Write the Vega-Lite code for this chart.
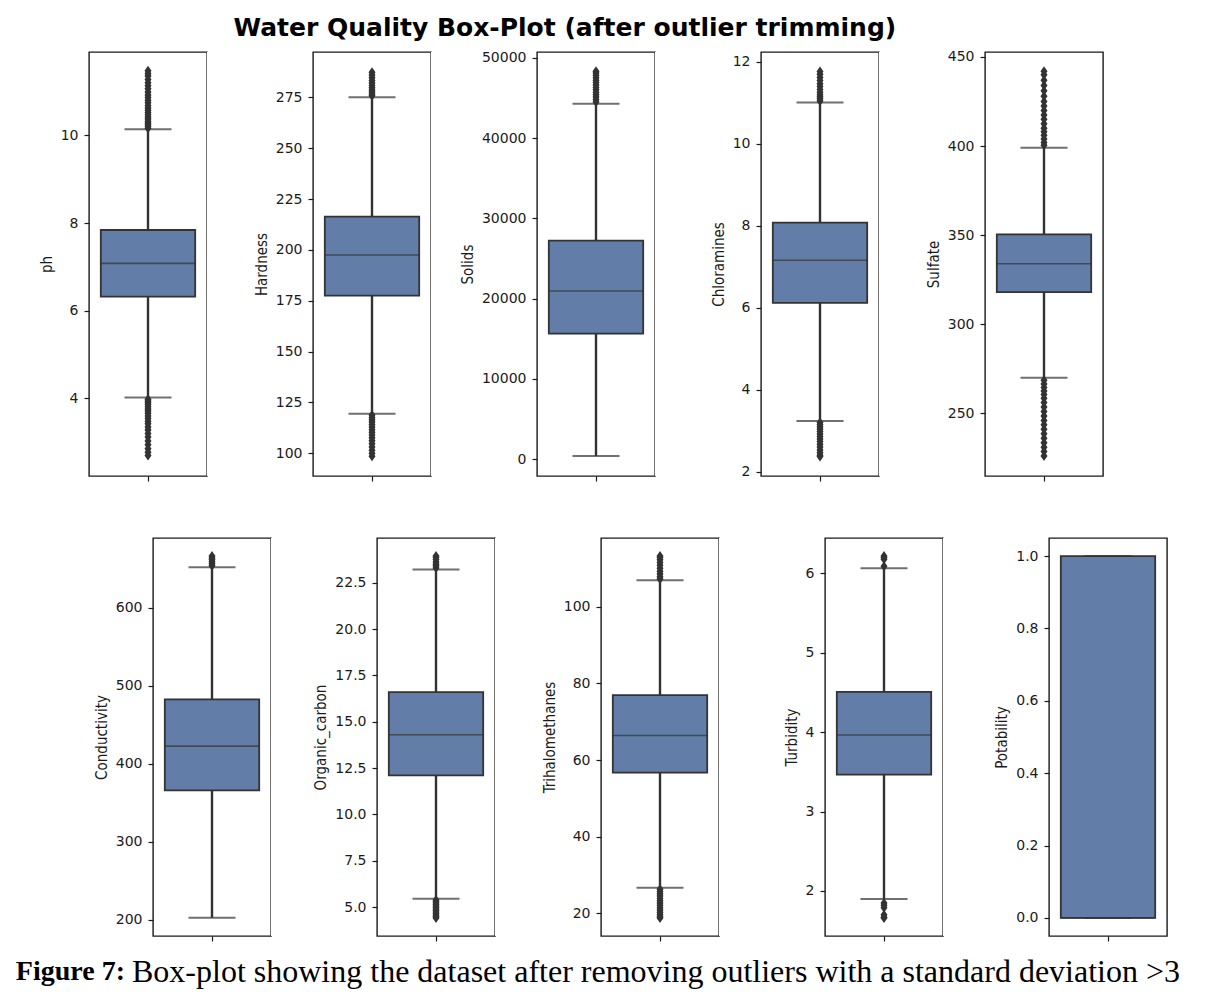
{
  "$schema": "https://vega.github.io/schema/vega-lite/v6.json",
  "background": "white",
  "padding": {"left": 15, "top": 16, "right": 5, "bottom": 5},
  "datasets": {
    "stats": [
      {"var": "ph", "lo": 4.02, "q1": 6.32, "med": 7.08, "q3": 7.84, "hi": 10.14},
      {"var": "Hardness", "lo": 119.4, "q1": 177.5, "med": 197.5, "q3": 216.3, "hi": 275.0},
      {"var": "Solids", "lo": 400, "q1": 15640, "med": 20950, "q3": 27220, "hi": 44270},
      {"var": "Chloramines", "lo": 3.24, "q1": 6.12, "med": 7.16, "q3": 8.08, "hi": 11.01},
      {"var": "Sulfate", "lo": 270, "q1": 318, "med": 333.9, "q3": 350.4, "hi": 399},
      {"var": "Conductivity", "lo": 202.4, "q1": 365.8, "med": 422.6, "q3": 482.4, "hi": 652},
      {"var": "Organic_carbon", "lo": 5.45, "q1": 12.1, "med": 14.3, "q3": 16.6, "hi": 23.22},
      {"var": "Trihalomethanes", "lo": 26.7, "q1": 56.7, "med": 66.4, "q3": 76.9, "hi": 106.9},
      {"var": "Turbidity", "lo": 1.9, "q1": 3.465, "med": 3.966, "q3": 4.509, "hi": 6.067},
      {"var": "Potability", "lo": 0, "q1": 0, "med": 0, "q3": 1, "hi": 1}
    ],
    "outliers": [
      {"var": "ph", "v": 10.16}, {"var": "ph", "v": 10.2}, {"var": "ph", "v": 10.24}, {"var": "ph", "v": 10.28}, {"var": "ph", "v": 10.32}, {"var": "ph", "v": 10.37}, {"var": "ph", "v": 10.42}, {"var": "ph", "v": 10.47}, {"var": "ph", "v": 10.52}, {"var": "ph", "v": 10.57}, {"var": "ph", "v": 10.62}, {"var": "ph", "v": 10.68}, {"var": "ph", "v": 10.74}, {"var": "ph", "v": 10.8}, {"var": "ph", "v": 10.86}, {"var": "ph", "v": 10.92}, {"var": "ph", "v": 10.99}, {"var": "ph", "v": 11.06}, {"var": "ph", "v": 11.13}, {"var": "ph", "v": 11.2}, {"var": "ph", "v": 11.27}, {"var": "ph", "v": 11.35}, {"var": "ph", "v": 11.41}, {"var": "ph", "v": 11.47},
      {"var": "ph", "v": 3.98}, {"var": "ph", "v": 3.94}, {"var": "ph", "v": 3.9}, {"var": "ph", "v": 3.86}, {"var": "ph", "v": 3.81}, {"var": "ph", "v": 3.76}, {"var": "ph", "v": 3.71}, {"var": "ph", "v": 3.66}, {"var": "ph", "v": 3.6}, {"var": "ph", "v": 3.54}, {"var": "ph", "v": 3.48}, {"var": "ph", "v": 3.42}, {"var": "ph", "v": 3.35}, {"var": "ph", "v": 3.28}, {"var": "ph", "v": 3.2}, {"var": "ph", "v": 3.12}, {"var": "ph", "v": 3.03}, {"var": "ph", "v": 2.94}, {"var": "ph", "v": 2.85}, {"var": "ph", "v": 2.77}, {"var": "ph", "v": 2.7},
      {"var": "Hardness", "v": 275.8}, {"var": "Hardness", "v": 276.7}, {"var": "Hardness", "v": 277.6}, {"var": "Hardness", "v": 278.6}, {"var": "Hardness", "v": 279.7}, {"var": "Hardness", "v": 280.8}, {"var": "Hardness", "v": 282.0}, {"var": "Hardness", "v": 283.3}, {"var": "Hardness", "v": 284.6}, {"var": "Hardness", "v": 286.0}, {"var": "Hardness", "v": 287.3},
      {"var": "Hardness", "v": 118.8}, {"var": "Hardness", "v": 117.6}, {"var": "Hardness", "v": 116.5}, {"var": "Hardness", "v": 115.3}, {"var": "Hardness", "v": 114.1}, {"var": "Hardness", "v": 112.9}, {"var": "Hardness", "v": 111.6}, {"var": "Hardness", "v": 110.3}, {"var": "Hardness", "v": 109.0}, {"var": "Hardness", "v": 107.6}, {"var": "Hardness", "v": 106.1}, {"var": "Hardness", "v": 104.6}, {"var": "Hardness", "v": 103.0}, {"var": "Hardness", "v": 101.5}, {"var": "Hardness", "v": 100.0}, {"var": "Hardness", "v": 98.5},
      {"var": "Solids", "v": 44500}, {"var": "Solids", "v": 44800}, {"var": "Solids", "v": 45100}, {"var": "Solids", "v": 45400}, {"var": "Solids", "v": 45700}, {"var": "Solids", "v": 46000}, {"var": "Solids", "v": 46300}, {"var": "Solids", "v": 46600}, {"var": "Solids", "v": 46900}, {"var": "Solids", "v": 47200}, {"var": "Solids", "v": 47500}, {"var": "Solids", "v": 47800}, {"var": "Solids", "v": 48100}, {"var": "Solids", "v": 48300},
      {"var": "Chloramines", "v": 11.05}, {"var": "Chloramines", "v": 11.1}, {"var": "Chloramines", "v": 11.15}, {"var": "Chloramines", "v": 11.2}, {"var": "Chloramines", "v": 11.26}, {"var": "Chloramines", "v": 11.33}, {"var": "Chloramines", "v": 11.4}, {"var": "Chloramines", "v": 11.47}, {"var": "Chloramines", "v": 11.55}, {"var": "Chloramines", "v": 11.62}, {"var": "Chloramines", "v": 11.7}, {"var": "Chloramines", "v": 11.77},
      {"var": "Chloramines", "v": 3.2}, {"var": "Chloramines", "v": 3.15}, {"var": "Chloramines", "v": 3.1}, {"var": "Chloramines", "v": 3.04}, {"var": "Chloramines", "v": 2.98}, {"var": "Chloramines", "v": 2.92}, {"var": "Chloramines", "v": 2.86}, {"var": "Chloramines", "v": 2.8}, {"var": "Chloramines", "v": 2.74}, {"var": "Chloramines", "v": 2.67}, {"var": "Chloramines", "v": 2.6}, {"var": "Chloramines", "v": 2.53}, {"var": "Chloramines", "v": 2.46}, {"var": "Chloramines", "v": 2.4}, {"var": "Chloramines", "v": 2.37},
      {"var": "Sulfate", "v": 400.5}, {"var": "Sulfate", "v": 402}, {"var": "Sulfate", "v": 404}, {"var": "Sulfate", "v": 406}, {"var": "Sulfate", "v": 408}, {"var": "Sulfate", "v": 410}, {"var": "Sulfate", "v": 412.5}, {"var": "Sulfate", "v": 415}, {"var": "Sulfate", "v": 417.5}, {"var": "Sulfate", "v": 420}, {"var": "Sulfate", "v": 422.5}, {"var": "Sulfate", "v": 425}, {"var": "Sulfate", "v": 428}, {"var": "Sulfate", "v": 431}, {"var": "Sulfate", "v": 434}, {"var": "Sulfate", "v": 437}, {"var": "Sulfate", "v": 440}, {"var": "Sulfate", "v": 442},
      {"var": "Sulfate", "v": 268.5}, {"var": "Sulfate", "v": 266.5}, {"var": "Sulfate", "v": 264.5}, {"var": "Sulfate", "v": 262.5}, {"var": "Sulfate", "v": 260.5}, {"var": "Sulfate", "v": 258.5}, {"var": "Sulfate", "v": 256}, {"var": "Sulfate", "v": 253.5}, {"var": "Sulfate", "v": 251}, {"var": "Sulfate", "v": 248.5}, {"var": "Sulfate", "v": 246}, {"var": "Sulfate", "v": 243.5}, {"var": "Sulfate", "v": 241}, {"var": "Sulfate", "v": 238.5}, {"var": "Sulfate", "v": 236}, {"var": "Sulfate", "v": 233.5}, {"var": "Sulfate", "v": 231}, {"var": "Sulfate", "v": 228.5}, {"var": "Sulfate", "v": 226},
      {"var": "Conductivity", "v": 654}, {"var": "Conductivity", "v": 656.5}, {"var": "Conductivity", "v": 659}, {"var": "Conductivity", "v": 661.5}, {"var": "Conductivity", "v": 664}, {"var": "Conductivity", "v": 666.3},
      {"var": "Organic_carbon", "v": 23.3}, {"var": "Organic_carbon", "v": 23.4}, {"var": "Organic_carbon", "v": 23.5}, {"var": "Organic_carbon", "v": 23.62}, {"var": "Organic_carbon", "v": 23.75}, {"var": "Organic_carbon", "v": 23.88}, {"var": "Organic_carbon", "v": 23.94},
      {"var": "Organic_carbon", "v": 5.38}, {"var": "Organic_carbon", "v": 5.3}, {"var": "Organic_carbon", "v": 5.22}, {"var": "Organic_carbon", "v": 5.14}, {"var": "Organic_carbon", "v": 5.06}, {"var": "Organic_carbon", "v": 4.98}, {"var": "Organic_carbon", "v": 4.9}, {"var": "Organic_carbon", "v": 4.82}, {"var": "Organic_carbon", "v": 4.73}, {"var": "Organic_carbon", "v": 4.64}, {"var": "Organic_carbon", "v": 4.55}, {"var": "Organic_carbon", "v": 4.47}, {"var": "Organic_carbon", "v": 4.41},
      {"var": "Trihalomethanes", "v": 107.2}, {"var": "Trihalomethanes", "v": 107.8}, {"var": "Trihalomethanes", "v": 108.5}, {"var": "Trihalomethanes", "v": 109.2}, {"var": "Trihalomethanes", "v": 110.0}, {"var": "Trihalomethanes", "v": 110.8}, {"var": "Trihalomethanes", "v": 111.5}, {"var": "Trihalomethanes", "v": 112.2}, {"var": "Trihalomethanes", "v": 112.8}, {"var": "Trihalomethanes", "v": 113.2},
      {"var": "Trihalomethanes", "v": 26.3}, {"var": "Trihalomethanes", "v": 25.7}, {"var": "Trihalomethanes", "v": 25.1}, {"var": "Trihalomethanes", "v": 24.5}, {"var": "Trihalomethanes", "v": 23.9}, {"var": "Trihalomethanes", "v": 23.3}, {"var": "Trihalomethanes", "v": 22.7}, {"var": "Trihalomethanes", "v": 22.1}, {"var": "Trihalomethanes", "v": 21.5}, {"var": "Trihalomethanes", "v": 20.9}, {"var": "Trihalomethanes", "v": 20.3}, {"var": "Trihalomethanes", "v": 19.7}, {"var": "Trihalomethanes", "v": 19.2}, {"var": "Trihalomethanes", "v": 18.8},
      {"var": "Turbidity", "v": 6.09}, {"var": "Turbidity", "v": 6.18}, {"var": "Turbidity", "v": 6.2}, {"var": "Turbidity", "v": 6.22},
      {"var": "Turbidity", "v": 1.85}, {"var": "Turbidity", "v": 1.82}, {"var": "Turbidity", "v": 1.79}, {"var": "Turbidity", "v": 1.7}, {"var": "Turbidity", "v": 1.67}, {"var": "Turbidity", "v": 1.66}
    ],
    "caption": [
      {"label": "Figure 7:", "rest": "Box-plot showing the dataset after removing outliers with a standard deviation >3"}
    ],
    "spacer": [{"k": 0}]
  },
  "config": {
    "view": {"stroke": null},
    "font": "DejaVu Sans",
    "axisY": {
      "domain": false, "grid": false, "ticks": true, "tickSize": 5, "tickColor": "#1a1a1a", "tickWidth": 1.2,
      "labelFont": "DejaVu Sans", "labelFontSize": 14, "labelColor": "#1a1a1a", "labelPadding": 6,
      "labelFlush": false, "labelOverlap": false,
      "titleFont": "DejaVu Sans Condensed, Liberation Sans Narrow, DejaVu Sans", "titleFontSize": 15, "titleFontWeight": "normal",
      "titleColor": "#1a1a1a", "titlePadding": 6
    },
    "axisX": {
      "domain": false, "grid": false, "labels": false, "ticks": true, "tickSize": 5, "tickColor": "#1a1a1a", "tickWidth": 1.2
    }
  },
  "spacing": 13,
  "vconcat": [
    {
      "spacing": 54,
      "vconcat": [
        {
          "title": {"text": "Water Quality Box-Plot (after outlier trimming)", "font": "DejaVu Sans", "fontSize": 25, "fontWeight": "bold", "color": "#000000", "anchor": "middle", "dx": 5, "offset": 8},
          "spacing": 0,
          "bounds": "flush",
          "hconcat": [
            {"width": 73, "height": 424, "data": {"name": "spacer"}, "mark": {"type": "point", "opacity": 0}, "encoding": {}, "view": {"stroke": null, "fill": "white"}},
            {
              "width": 118, "height": 424, "view": {"stroke": "#1a1a1a", "strokeWidth": 1.4},
              "data": {"name": "stats"}, "transform": [{"filter": "datum.var === 'ph'"}],
              "encoding": {"x": {"field": "var", "type": "nominal", "scale": {"paddingInner": 0, "paddingOuter": 0.125}, "axis": {"labels": false, "title": null, "bandPosition": 0.5}}},
              "layer": [
                {"mark": {"type": "rule", "stroke": "#333333", "strokeWidth": 2.4}, "encoding": {"y": {"field": "lo", "type": "quantitative", "scale": {"domain": [2.23, 11.9], "nice": false, "zero": false}, "axis": {"title": "ph", "values": [4, 6, 8, 10], "format": "d"}}, "y2": {"field": "hi"}}},
                {"mark": {"type": "bar", "fill": "#627ea8", "stroke": "#333333", "strokeWidth": 1.8}, "encoding": {"y": {"field": "q1", "type": "quantitative"}, "y2": {"field": "q3"}}},
                {"mark": {"type": "tick", "color": "#333333", "size": 94, "thickness": 1.6}, "encoding": {"y": {"field": "med", "type": "quantitative"}}},
                {"mark": {"type": "tick", "color": "#333333", "size": 47, "thickness": 2}, "encoding": {"y": {"field": "lo", "type": "quantitative"}}},
                {"mark": {"type": "tick", "color": "#333333", "size": 47, "thickness": 2}, "encoding": {"y": {"field": "hi", "type": "quantitative"}}},
                {"data": {"name": "outliers"}, "transform": [{"filter": "datum.var === 'ph'"}], "mark": {"type": "point", "shape": "M0,-1L0.7,0L0,1L-0.7,0Z", "size": 100, "filled": true, "color": "#333333", "opacity": 1}, "encoding": {"y": {"field": "v", "type": "quantitative"}}}
              ]
            },
            {"width": 106, "height": 424, "data": {"name": "spacer"}, "mark": {"type": "point", "opacity": 0}, "encoding": {}, "view": {"stroke": null, "fill": "white"}},
            {
              "width": 118, "height": 424, "view": {"stroke": "#1a1a1a", "strokeWidth": 1.4},
              "data": {"name": "stats"}, "transform": [{"filter": "datum.var === 'Hardness'"}],
              "encoding": {"x": {"field": "var", "type": "nominal", "scale": {"paddingInner": 0, "paddingOuter": 0.125}, "axis": {"labels": false, "title": null, "bandPosition": 0.5}}},
              "layer": [
                {"mark": {"type": "rule", "stroke": "#333333", "strokeWidth": 2.4}, "encoding": {"y": {"field": "lo", "type": "quantitative", "scale": {"domain": [88.8, 297.3], "nice": false, "zero": false}, "axis": {"title": "Hardness", "values": [100, 125, 150, 175, 200, 225, 250, 275], "format": "d"}}, "y2": {"field": "hi"}}},
                {"mark": {"type": "bar", "fill": "#627ea8", "stroke": "#333333", "strokeWidth": 1.8}, "encoding": {"y": {"field": "q1", "type": "quantitative"}, "y2": {"field": "q3"}}},
                {"mark": {"type": "tick", "color": "#333333", "size": 94, "thickness": 1.6}, "encoding": {"y": {"field": "med", "type": "quantitative"}}},
                {"mark": {"type": "tick", "color": "#333333", "size": 47, "thickness": 2}, "encoding": {"y": {"field": "lo", "type": "quantitative"}}},
                {"mark": {"type": "tick", "color": "#333333", "size": 47, "thickness": 2}, "encoding": {"y": {"field": "hi", "type": "quantitative"}}},
                {"data": {"name": "outliers"}, "transform": [{"filter": "datum.var === 'Hardness'"}], "mark": {"type": "point", "shape": "M0,-1L0.7,0L0,1L-0.7,0Z", "size": 100, "filled": true, "color": "#333333", "opacity": 1}, "encoding": {"y": {"field": "v", "type": "quantitative"}}}
              ]
            },
            {"width": 106, "height": 424, "data": {"name": "spacer"}, "mark": {"type": "point", "opacity": 0}, "encoding": {}, "view": {"stroke": null, "fill": "white"}},
            {
              "width": 118, "height": 424, "view": {"stroke": "#1a1a1a", "strokeWidth": 1.4},
              "data": {"name": "stats"}, "transform": [{"filter": "datum.var === 'Solids'"}],
              "encoding": {"x": {"field": "var", "type": "nominal", "scale": {"paddingInner": 0, "paddingOuter": 0.125}, "axis": {"labels": false, "title": null, "bandPosition": 0.5}}},
              "layer": [
                {"mark": {"type": "rule", "stroke": "#333333", "strokeWidth": 2.4}, "encoding": {"y": {"field": "lo", "type": "quantitative", "scale": {"domain": [-2080, 50710], "nice": false, "zero": false}, "axis": {"title": "Solids", "values": [0, 10000, 20000, 30000, 40000, 50000], "format": "d"}}, "y2": {"field": "hi"}}},
                {"mark": {"type": "bar", "fill": "#627ea8", "stroke": "#333333", "strokeWidth": 1.8}, "encoding": {"y": {"field": "q1", "type": "quantitative"}, "y2": {"field": "q3"}}},
                {"mark": {"type": "tick", "color": "#333333", "size": 94, "thickness": 1.6}, "encoding": {"y": {"field": "med", "type": "quantitative"}}},
                {"mark": {"type": "tick", "color": "#333333", "size": 47, "thickness": 2}, "encoding": {"y": {"field": "lo", "type": "quantitative"}}},
                {"mark": {"type": "tick", "color": "#333333", "size": 47, "thickness": 2}, "encoding": {"y": {"field": "hi", "type": "quantitative"}}},
                {"data": {"name": "outliers"}, "transform": [{"filter": "datum.var === 'Solids'"}], "mark": {"type": "point", "shape": "M0,-1L0.7,0L0,1L-0.7,0Z", "size": 100, "filled": true, "color": "#333333", "opacity": 1}, "encoding": {"y": {"field": "v", "type": "quantitative"}}}
              ]
            },
            {"width": 106, "height": 424, "data": {"name": "spacer"}, "mark": {"type": "point", "opacity": 0}, "encoding": {}, "view": {"stroke": null, "fill": "white"}},
            {
              "width": 118, "height": 424, "view": {"stroke": "#1a1a1a", "strokeWidth": 1.4},
              "data": {"name": "stats"}, "transform": [{"filter": "datum.var === 'Chloramines'"}],
              "encoding": {"x": {"field": "var", "type": "nominal", "scale": {"paddingInner": 0, "paddingOuter": 0.125}, "axis": {"labels": false, "title": null, "bandPosition": 0.5}}},
              "layer": [
                {"mark": {"type": "rule", "stroke": "#333333", "strokeWidth": 2.4}, "encoding": {"y": {"field": "lo", "type": "quantitative", "scale": {"domain": [1.895, 12.244], "nice": false, "zero": false}, "axis": {"title": "Chloramines", "values": [2, 4, 6, 8, 10, 12], "format": "d"}}, "y2": {"field": "hi"}}},
                {"mark": {"type": "bar", "fill": "#627ea8", "stroke": "#333333", "strokeWidth": 1.8}, "encoding": {"y": {"field": "q1", "type": "quantitative"}, "y2": {"field": "q3"}}},
                {"mark": {"type": "tick", "color": "#333333", "size": 94, "thickness": 1.6}, "encoding": {"y": {"field": "med", "type": "quantitative"}}},
                {"mark": {"type": "tick", "color": "#333333", "size": 47, "thickness": 2}, "encoding": {"y": {"field": "lo", "type": "quantitative"}}},
                {"mark": {"type": "tick", "color": "#333333", "size": 47, "thickness": 2}, "encoding": {"y": {"field": "hi", "type": "quantitative"}}},
                {"data": {"name": "outliers"}, "transform": [{"filter": "datum.var === 'Chloramines'"}], "mark": {"type": "point", "shape": "M0,-1L0.7,0L0,1L-0.7,0Z", "size": 100, "filled": true, "color": "#333333", "opacity": 1}, "encoding": {"y": {"field": "v", "type": "quantitative"}}}
              ]
            },
            {"width": 106, "height": 424, "data": {"name": "spacer"}, "mark": {"type": "point", "opacity": 0}, "encoding": {}, "view": {"stroke": null, "fill": "white"}},
            {
              "width": 118, "height": 424, "view": {"stroke": "#1a1a1a", "strokeWidth": 1.4},
              "data": {"name": "stats"}, "transform": [{"filter": "datum.var === 'Sulfate'"}],
              "encoding": {"x": {"field": "var", "type": "nominal", "scale": {"paddingInner": 0, "paddingOuter": 0.125}, "axis": {"labels": false, "title": null, "bandPosition": 0.5}}},
              "layer": [
                {"mark": {"type": "rule", "stroke": "#333333", "strokeWidth": 2.4}, "encoding": {"y": {"field": "lo", "type": "quantitative", "scale": {"domain": [214.8, 452.8], "nice": false, "zero": false}, "axis": {"title": "Sulfate", "values": [250, 300, 350, 400, 450], "format": "d"}}, "y2": {"field": "hi"}}},
                {"mark": {"type": "bar", "fill": "#627ea8", "stroke": "#333333", "strokeWidth": 1.8}, "encoding": {"y": {"field": "q1", "type": "quantitative"}, "y2": {"field": "q3"}}},
                {"mark": {"type": "tick", "color": "#333333", "size": 94, "thickness": 1.6}, "encoding": {"y": {"field": "med", "type": "quantitative"}}},
                {"mark": {"type": "tick", "color": "#333333", "size": 47, "thickness": 2}, "encoding": {"y": {"field": "lo", "type": "quantitative"}}},
                {"mark": {"type": "tick", "color": "#333333", "size": 47, "thickness": 2}, "encoding": {"y": {"field": "hi", "type": "quantitative"}}},
                {"data": {"name": "outliers"}, "transform": [{"filter": "datum.var === 'Sulfate'"}], "mark": {"type": "point", "shape": "M0,-1L0.7,0L0,1L-0.7,0Z", "size": 100, "filled": true, "color": "#333333", "opacity": 1}, "encoding": {"y": {"field": "v", "type": "quantitative"}}}
              ]
            }
          ]
        },
        {
          "spacing": 0,
          "bounds": "flush",
          "hconcat": [
            {"width": 137, "height": 398, "data": {"name": "spacer"}, "mark": {"type": "point", "opacity": 0}, "encoding": {}, "view": {"stroke": null, "fill": "white"}},
            {
              "width": 118, "height": 398, "view": {"stroke": "#1a1a1a", "strokeWidth": 1.4},
              "data": {"name": "stats"}, "transform": [{"filter": "datum.var === 'Conductivity'"}],
              "encoding": {"x": {"field": "var", "type": "nominal", "scale": {"paddingInner": 0, "paddingOuter": 0.125}, "axis": {"labels": false, "title": null, "bandPosition": 0.5}}},
              "layer": [
                {"mark": {"type": "rule", "stroke": "#333333", "strokeWidth": 2.4}, "encoding": {"y": {"field": "lo", "type": "quantitative", "scale": {"domain": [179, 689.5], "nice": false, "zero": false}, "axis": {"title": "Conductivity", "values": [200, 300, 400, 500, 600], "format": "d"}}, "y2": {"field": "hi"}}},
                {"mark": {"type": "bar", "fill": "#627ea8", "stroke": "#333333", "strokeWidth": 1.8}, "encoding": {"y": {"field": "q1", "type": "quantitative"}, "y2": {"field": "q3"}}},
                {"mark": {"type": "tick", "color": "#333333", "size": 94, "thickness": 1.6}, "encoding": {"y": {"field": "med", "type": "quantitative"}}},
                {"mark": {"type": "tick", "color": "#333333", "size": 47, "thickness": 2}, "encoding": {"y": {"field": "lo", "type": "quantitative"}}},
                {"mark": {"type": "tick", "color": "#333333", "size": 47, "thickness": 2}, "encoding": {"y": {"field": "hi", "type": "quantitative"}}},
                {"data": {"name": "outliers"}, "transform": [{"filter": "datum.var === 'Conductivity'"}], "mark": {"type": "point", "shape": "M0,-1L0.7,0L0,1L-0.7,0Z", "size": 100, "filled": true, "color": "#333333", "opacity": 1}, "encoding": {"y": {"field": "v", "type": "quantitative"}}}
              ]
            },
            {"width": 106, "height": 398, "data": {"name": "spacer"}, "mark": {"type": "point", "opacity": 0}, "encoding": {}, "view": {"stroke": null, "fill": "white"}},
            {
              "width": 118, "height": 398, "view": {"stroke": "#1a1a1a", "strokeWidth": 1.4},
              "data": {"name": "stats"}, "transform": [{"filter": "datum.var === 'Organic_carbon'"}],
              "encoding": {"x": {"field": "var", "type": "nominal", "scale": {"paddingInner": 0, "paddingOuter": 0.125}, "axis": {"labels": false, "title": null, "bandPosition": 0.5}}},
              "layer": [
                {"mark": {"type": "rule", "stroke": "#333333", "strokeWidth": 2.4}, "encoding": {"y": {"field": "lo", "type": "quantitative", "scale": {"domain": [3.436, 24.917], "nice": false, "zero": false}, "axis": {"title": "Organic_carbon", "values": [5, 7.5, 10, 12.5, 15, 17.5, 20, 22.5], "format": ".1f"}}, "y2": {"field": "hi"}}},
                {"mark": {"type": "bar", "fill": "#627ea8", "stroke": "#333333", "strokeWidth": 1.8}, "encoding": {"y": {"field": "q1", "type": "quantitative"}, "y2": {"field": "q3"}}},
                {"mark": {"type": "tick", "color": "#333333", "size": 94, "thickness": 1.6}, "encoding": {"y": {"field": "med", "type": "quantitative"}}},
                {"mark": {"type": "tick", "color": "#333333", "size": 47, "thickness": 2}, "encoding": {"y": {"field": "lo", "type": "quantitative"}}},
                {"mark": {"type": "tick", "color": "#333333", "size": 47, "thickness": 2}, "encoding": {"y": {"field": "hi", "type": "quantitative"}}},
                {"data": {"name": "outliers"}, "transform": [{"filter": "datum.var === 'Organic_carbon'"}], "mark": {"type": "point", "shape": "M0,-1L0.7,0L0,1L-0.7,0Z", "size": 100, "filled": true, "color": "#333333", "opacity": 1}, "encoding": {"y": {"field": "v", "type": "quantitative"}}}
              ]
            },
            {"width": 106, "height": 398, "data": {"name": "spacer"}, "mark": {"type": "point", "opacity": 0}, "encoding": {}, "view": {"stroke": null, "fill": "white"}},
            {
              "width": 118, "height": 398, "view": {"stroke": "#1a1a1a", "strokeWidth": 1.4},
              "data": {"name": "stats"}, "transform": [{"filter": "datum.var === 'Trihalomethanes'"}],
              "encoding": {"x": {"field": "var", "type": "nominal", "scale": {"paddingInner": 0, "paddingOuter": 0.125}, "axis": {"labels": false, "title": null, "bandPosition": 0.5}}},
              "layer": [
                {"mark": {"type": "rule", "stroke": "#333333", "strokeWidth": 2.4}, "encoding": {"y": {"field": "lo", "type": "quantitative", "scale": {"domain": [14.1, 117.9], "nice": false, "zero": false}, "axis": {"title": "Trihalomethanes", "values": [20, 40, 60, 80, 100], "format": "d"}}, "y2": {"field": "hi"}}},
                {"mark": {"type": "bar", "fill": "#627ea8", "stroke": "#333333", "strokeWidth": 1.8}, "encoding": {"y": {"field": "q1", "type": "quantitative"}, "y2": {"field": "q3"}}},
                {"mark": {"type": "tick", "color": "#333333", "size": 94, "thickness": 1.6}, "encoding": {"y": {"field": "med", "type": "quantitative"}}},
                {"mark": {"type": "tick", "color": "#333333", "size": 47, "thickness": 2}, "encoding": {"y": {"field": "lo", "type": "quantitative"}}},
                {"mark": {"type": "tick", "color": "#333333", "size": 47, "thickness": 2}, "encoding": {"y": {"field": "hi", "type": "quantitative"}}},
                {"data": {"name": "outliers"}, "transform": [{"filter": "datum.var === 'Trihalomethanes'"}], "mark": {"type": "point", "shape": "M0,-1L0.7,0L0,1L-0.7,0Z", "size": 100, "filled": true, "color": "#333333", "opacity": 1}, "encoding": {"y": {"field": "v", "type": "quantitative"}}}
              ]
            },
            {"width": 106, "height": 398, "data": {"name": "spacer"}, "mark": {"type": "point", "opacity": 0}, "encoding": {}, "view": {"stroke": null, "fill": "white"}},
            {
              "width": 118, "height": 398, "view": {"stroke": "#1a1a1a", "strokeWidth": 1.4},
              "data": {"name": "stats"}, "transform": [{"filter": "datum.var === 'Turbidity'"}],
              "encoding": {"x": {"field": "var", "type": "nominal", "scale": {"paddingInner": 0, "paddingOuter": 0.125}, "axis": {"labels": false, "title": null, "bandPosition": 0.5}}},
              "layer": [
                {"mark": {"type": "rule", "stroke": "#333333", "strokeWidth": 2.4}, "encoding": {"y": {"field": "lo", "type": "quantitative", "scale": {"domain": [1.433, 6.447], "nice": false, "zero": false}, "axis": {"title": "Turbidity", "values": [2, 3, 4, 5, 6], "format": "d"}}, "y2": {"field": "hi"}}},
                {"mark": {"type": "bar", "fill": "#627ea8", "stroke": "#333333", "strokeWidth": 1.8}, "encoding": {"y": {"field": "q1", "type": "quantitative"}, "y2": {"field": "q3"}}},
                {"mark": {"type": "tick", "color": "#333333", "size": 94, "thickness": 1.6}, "encoding": {"y": {"field": "med", "type": "quantitative"}}},
                {"mark": {"type": "tick", "color": "#333333", "size": 47, "thickness": 2}, "encoding": {"y": {"field": "lo", "type": "quantitative"}}},
                {"mark": {"type": "tick", "color": "#333333", "size": 47, "thickness": 2}, "encoding": {"y": {"field": "hi", "type": "quantitative"}}},
                {"data": {"name": "outliers"}, "transform": [{"filter": "datum.var === 'Turbidity'"}], "mark": {"type": "point", "shape": "M0,-1L0.7,0L0,1L-0.7,0Z", "size": 100, "filled": true, "color": "#333333", "opacity": 1}, "encoding": {"y": {"field": "v", "type": "quantitative"}}}
              ]
            },
            {"width": 106, "height": 398, "data": {"name": "spacer"}, "mark": {"type": "point", "opacity": 0}, "encoding": {}, "view": {"stroke": null, "fill": "white"}},
            {
              "width": 118, "height": 398, "view": {"stroke": "#1a1a1a", "strokeWidth": 1.4},
              "data": {"name": "stats"}, "transform": [{"filter": "datum.var === 'Potability'"}],
              "encoding": {"x": {"field": "var", "type": "nominal", "scale": {"paddingInner": 0, "paddingOuter": 0.125}, "axis": {"labels": false, "title": null, "bandPosition": 0.5}}},
              "layer": [
                {"mark": {"type": "rule", "stroke": "#333333", "strokeWidth": 2.4}, "encoding": {"y": {"field": "lo", "type": "quantitative", "scale": {"domain": [-0.05, 1.05], "nice": false, "zero": false}, "axis": {"title": "Potability", "values": [0, 0.2, 0.4, 0.6, 0.8, 1.0], "format": ".1f"}}, "y2": {"field": "hi"}}},
                {"mark": {"type": "bar", "fill": "#627ea8", "stroke": "#333333", "strokeWidth": 1.8}, "encoding": {"y": {"field": "q1", "type": "quantitative"}, "y2": {"field": "q3"}}},
                {"mark": {"type": "tick", "color": "#333333", "size": 94, "thickness": 1.6}, "encoding": {"y": {"field": "med", "type": "quantitative"}}},
                {"mark": {"type": "tick", "color": "#333333", "size": 47, "thickness": 2}, "encoding": {"y": {"field": "lo", "type": "quantitative"}}},
                {"mark": {"type": "tick", "color": "#333333", "size": 47, "thickness": 2}, "encoding": {"y": {"field": "hi", "type": "quantitative"}}}
              ]
            }
          ]
        }
      ]
    },
    {
      "width": 218, "height": 30, "view": {"stroke": null},
      "data": {"name": "caption"},
      "layer": [
        {"mark": {"type": "text", "align": "right", "baseline": "middle", "font": "Liberation Serif", "fontSize": 28, "fontWeight": "bold", "color": "#000000"}, "encoding": {"text": {"field": "label"}}},
        {"mark": {"type": "text", "align": "left", "baseline": "middle", "dx": 7, "font": "Liberation Serif", "fontSize": 32, "color": "#000000"}, "encoding": {"text": {"field": "rest"}}}
      ]
    }
  ]
}
